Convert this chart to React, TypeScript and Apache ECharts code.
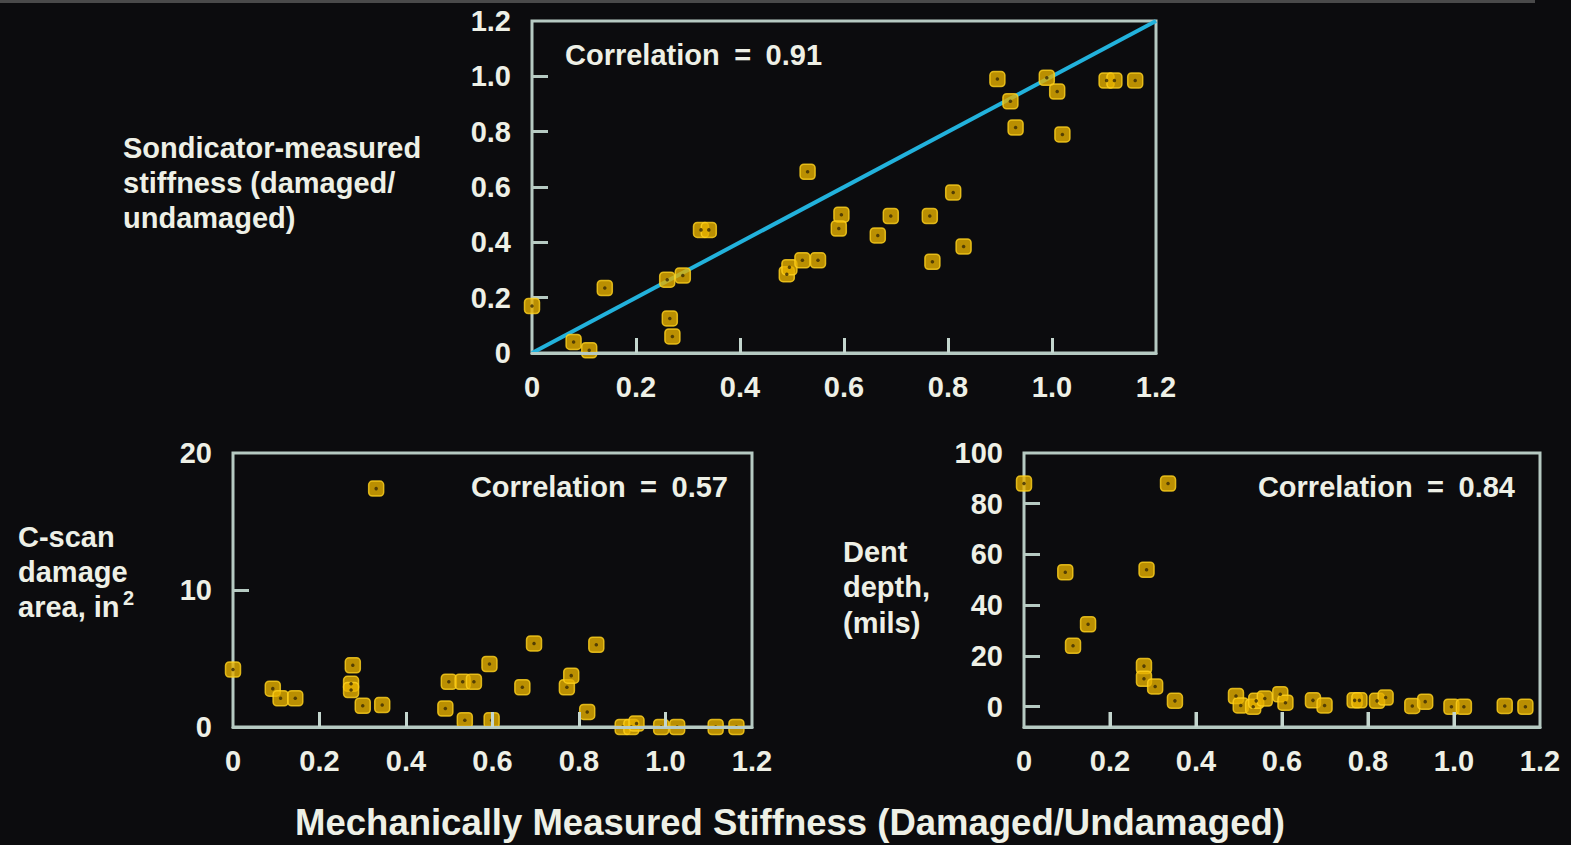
import React, { useEffect, useRef } from "react";
import * as echarts from "echarts";

// ---------- data ----------
const topX = [0, 0.08, 0.11, 0.14, 0.26, 0.29, 0.265, 0.27, 0.325, 0.34, 0.49, 0.495, 0.52, 0.55, 0.53, 0.595, 0.59, 0.665, 0.69, 0.765, 0.77, 0.81, 0.83, 0.895, 0.92, 0.93, 0.99, 1.01, 1.02, 1.105, 1.12, 1.16];
const topY = [0.17, 0.04, 0.01, 0.235, 0.265, 0.28, 0.125, 0.06, 0.445, 0.445, 0.285, 0.31, 0.335, 0.335, 0.655, 0.5, 0.45, 0.425, 0.495, 0.495, 0.33, 0.58, 0.385, 0.99, 0.91, 0.815, 0.995, 0.945, 0.79, 0.985, 0.985, 0.985];

const areaX = [0, 0.092, 0.11, 0.144, 0.277, 0.273, 0.273, 0.3, 0.345, 0.331, 0.491, 0.499, 0.531, 0.557, 0.536, 0.593, 0.598, 0.669, 0.696, 0.772, 0.782, 0.819, 0.84, 0.901, 0.921, 0.933, 0.99, 1.027, 1.116, 1.164];
const areaY = [4.2, 2.8, 2.1, 2.1, 4.5, 3.15, 2.7, 1.55, 1.6, 17.4, 1.35, 3.3, 3.3, 3.3, 0.5, 4.6, 0.5, 2.9, 6.1, 2.9, 3.75, 1.1, 6.0, 0, 0, 0.25, 0, 0, 0, 0];

const dentX = [0, 0.096, 0.114, 0.149, 0.285, 0.335, 0.279, 0.279, 0.305, 0.351, 0.493, 0.504, 0.533, 0.54, 0.56, 0.596, 0.608, 0.672, 0.699, 0.769, 0.78, 0.821, 0.841, 0.903, 0.933, 0.994, 1.023, 1.118, 1.166];
const dentY = [88, 53, 24, 32.5, 54, 88, 16, 11, 8, 2.3, 4.2, 0.5, 0, 2.3, 3.2, 4.9, 1.6, 2.5, 0.5, 2.5, 2.5, 2.3, 3.6, 0.3, 2, 0, 0, 0.3, 0];

const diagonal = [[0, 0], [1.2, 1.2]];

// tick values / labels
const stiffTicks = [0.2, 0.4, 0.6, 0.8, 1.0];
const stiffLabels = [0, 0.2, 0.4, 0.6, 0.8, 1.0, 1.2];
const areaTicks = [10];
const areaLabels = [0, 10, 20];
const dentTicks = [0, 20, 40, 60, 80];
const dentLabels = [0, 20, 40, 60, 80, 100];
const STIFF_MAX = 1.2;
const DENT_MIN = -8;
const DENT_MAX = 100;

const correlations = ["0.91", "0.57", "0.84"];

// ---------- layout / styles ----------
const GRIDS = [
  { left: 532, top: 21, width: 624, height: 332 },
  { left: 233, top: 453, width: 519, height: 274 },
  { left: 1024, top: 453, width: 516, height: 274 },
];
const BG = "#0c0c0e";
const BORDER = "#b6cac2";
const TICK = "#c4d6ce";
const TEXT = "#eef0e6";
const YELLOW = "#e6b000";
const YELLOW_EDGE = "#ffd21e";
const DOT = "#3a2a05";
const BLUE = "#22b2dc";
const FONT = '"Liberation Sans", Arial, Helvetica, sans-serif';
const X_TICK_LEN = 15;

const zip = (xs: number[], ys: number[]) => xs.map((x, i) => [x, ys[i]]);
const fmtStiff = (v: number) => (v === 0 ? "0" : v.toFixed(1));

const labelStyle = {
  color: TEXT,
  fontSize: 29,
  fontWeight: "bold" as const,
  fontFamily: FONT,
};

function xAxisCfg(gridIndex: number) {
  return {
    type: "value",
    gridIndex,
    min: 0,
    max: STIFF_MAX,
    interval: 0.2,
    position: "bottom",
    z: 10,
    axisLine: { show: true, onZero: false, lineStyle: { color: BORDER, width: 3 } },
    splitLine: { show: false },
    axisTick: {
      show: true,
      inside: true,
      length: X_TICK_LEN,
      customValues: stiffTicks,
      lineStyle: { color: TICK, width: 3, opacity: 1 },
    },
    axisLabel: {
      ...labelStyle,
      margin: 19,
      customValues: stiffLabels,
      formatter: fmtStiff,
    },
  };
}

function yAxisCfg(gridIndex: number, min: number, max: number, ticks: number[], labels: number[], fmt: (v: number) => string) {
  return {
    type: "value",
    gridIndex,
    min,
    max,
    position: "left",
    axisLine: { show: false, onZero: false },
    splitLine: { show: false },
    axisTick: {
      show: true,
      inside: true,
      length: 16,
      customValues: ticks,
      lineStyle: { color: BORDER, width: 3 },
    },
    axisLabel: {
      ...labelStyle,
      margin: 21,
      customValues: labels,
      formatter: fmt,
    },
  };
}

function scatterPair(idx: number, data: number[][]) {
  return [
    {
      type: "scatter",
      xAxisIndex: idx,
      yAxisIndex: idx,
      data,
      symbol: "roundRect",
      symbolSize: 15,
      clip: false,
      z: 3,
      itemStyle: { color: YELLOW, borderColor: YELLOW_EDGE, borderWidth: 1.5 },
    },
    {
      type: "scatter",
      xAxisIndex: idx,
      yAxisIndex: idx,
      data,
      symbol: "circle",
      symbolSize: 3.5,
      clip: false,
      silent: true,
      z: 4,
      itemStyle: { color: DOT },
    },
  ];
}

function txt(text: string, x: number, y: number, opts: any = {}) {
  return {
    type: "text",
    x,
    y,
    silent: true,
    style: {
      text,
      fill: TEXT,
      fontSize: 29,
      fontWeight: "bold",
      fontFamily: FONT,
      align: "left",
      verticalAlign: "middle",
      ...opts,
    },
  };
}

// bottom ticks of the dent-depth panel (axis frame decoration, from the grid layout)
const g2 = GRIDS[2];
const dentBottomTicks = stiffTicks.map((v) => {
  const px = Math.round(g2.left + (v / STIFF_MAX) * g2.width);
  const py = g2.top + g2.height;
  return {
    type: "line",
    silent: true,
    z: 100,
    shape: { x1: px, y1: py, x2: px, y2: py - X_TICK_LEN },
    style: { stroke: TICK, lineWidth: 3 },
  };
});

const gridBase = {
  show: true,
  borderColor: BORDER,
  borderWidth: 3,
  backgroundColor: "transparent",
  containLabel: false,
};

const option = {
  animation: false,
  backgroundColor: BG,
  grid: GRIDS.map((g) => ({ ...gridBase, ...g })),
  xAxis: [xAxisCfg(0), xAxisCfg(1), xAxisCfg(2)],
  yAxis: [
    yAxisCfg(0, 0, STIFF_MAX, stiffTicks, stiffLabels, fmtStiff),
    yAxisCfg(1, 0, 20, areaTicks, areaLabels, (v: number) => String(v)),
    yAxisCfg(2, DENT_MIN, DENT_MAX, dentTicks, dentLabels, (v: number) => String(v)),
  ],
  series: [
    {
      type: "line",
      xAxisIndex: 0,
      yAxisIndex: 0,
      data: diagonal,
      symbol: "none",
      silent: true,
      z: 2,
      lineStyle: { color: BLUE, width: 4 },
    },
    ...scatterPair(0, zip(topX, topY)),
    ...scatterPair(1, zip(areaX, areaY)),
    ...scatterPair(2, zip(dentX, dentY)),
  ],
  graphic: [
    { type: "rect", silent: true, shape: { x: 0, y: 0, width: 1535, height: 3 }, style: { fill: "#4a4a4a" } },
    ...dentBottomTicks,
    txt("Correlation\u2002=\u2002" + correlations[0], 565, 55),
    txt("Correlation\u2002=\u2002" + correlations[1], 728, 487, { align: "right" }),
    txt("Correlation\u2002=\u2002" + correlations[2], 1515, 487, { align: "right" }),
    txt("Sondicator-measured\nstiffness (damaged/\nundamaged)", 123, 130, { verticalAlign: "top", lineHeight: 35 }),
    txt("C-scan\ndamage\narea, in", 18, 519, { verticalAlign: "top", lineHeight: 35 }),
    txt("2", 123, 598, { fontSize: 20, lineHeight: 16 }),
    txt("Dent\ndepth,\n(mils)", 843, 534, { verticalAlign: "top", lineHeight: 35.5 }),
    txt("Mechanically Measured Stiffness (Damaged/Undamaged)", 790, 822, { fontSize: 36.5, align: "center" }),
  ],
};

export default function App() {
  const ref = useRef<HTMLDivElement>(null);
  useEffect(() => {
    if (!ref.current) return;
    const chart = echarts.init(ref.current, null, { renderer: "svg", width: 1571, height: 845 });
    chart.setOption(option as any);
    return () => chart.dispose();
  }, []);
  return (
    <div
      ref={ref}
      style={{ position: "fixed", left: 0, top: 0, width: 1571, height: 845, background: BG }}
    />
  );
}
